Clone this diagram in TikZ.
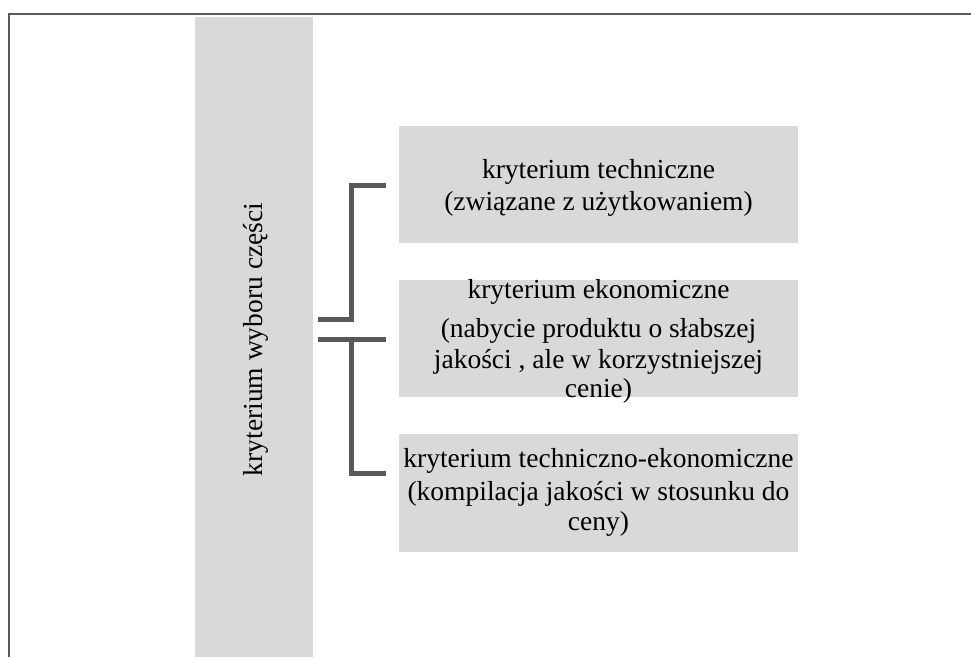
\documentclass[tikz,border=0pt]{standalone}
\usepackage{fontspec}
\setmainfont{Liberation Serif}
\definecolor{boxgray}{HTML}{D9D9D9}
\definecolor{linegray}{HTML}{595959}
\definecolor{framegray}{HTML}{5A5A5A}
\begin{document}
\begin{tikzpicture}[x=1pt,y=-1pt,
  box/.style={fill=boxgray, draw=none, inner sep=0pt, anchor=north west},
  txt/.style={anchor=base, inner sep=0pt, font=\fontsize{27.5}{31}\selectfont},
  brk/.style={draw=linegray, line width=5pt, line join=miter}]
\useasboundingbox (0,0) rectangle (971,657);
% frame
\coordinate (ftl) at (9,14.3);
\coordinate (ftr) at (971,14.3);
\coordinate (fbl) at (9,657);
\draw[framegray, line width=2pt] (fbl) -- (ftl) -- (ftr);
% tall left bar
\node[box, minimum width=118pt, minimum height=640pt] (bar) at (195,17) {};
\node[txt, rotate=90] (bartxt) at (262,339.5) {kryterium wyboru części};
% boxes
\node[box, minimum width=399pt, minimum height=117pt] (b1) at (399,126) {};
\node[box, minimum width=399pt, minimum height=117pt] (b2) at (399,280) {};
\node[box, minimum width=399pt, minimum height=118pt] (b3) at (399,434) {};
% texts
\node[txt] (t1a) at (598.5,178) {kryterium techniczne};
\node[txt] (t1b) at (598.5,210) {(związane z użytkowaniem)};
\node[txt] (t2a) at (598.5,298) {kryterium ekonomiczne};
\node[txt] (t2b) at (598.5,337) {(nabycie produktu o słabszej};
\node[txt] (t2c) at (598.5,368) {jakości , ale w korzystniejszej};
\node[txt] (t2d) at (598.5,397) {cenie)};
\node[txt] (t3a) at (598.5,467) {kryterium techniczno-ekonomiczne};
\node[txt] (t3b) at (598.5,500) {(kompilacja jakości w stosunku do};
\node[txt] (t3c) at (598.5,530) {ceny)};
% brackets
\coordinate (c1s) at (318,319);
\coordinate (c1m) at (351,319);
\coordinate (c1t) at (351,185);
\coordinate (c1e) at (386,185);
\draw[brk] (c1s) -- (c1m) -- (c1t) -- (c1e);
\coordinate (c2s) at (318,339);
\coordinate (c2e) at (386,339);
\coordinate (c2m) at (351,339);
\coordinate (c2b) at (351,473);
\coordinate (c2f) at (386,473);
\draw[brk] (c2s) -- (c2e);
\draw[brk] (c2m) -- (c2b) -- (c2f);
\end{tikzpicture}
\end{document}
